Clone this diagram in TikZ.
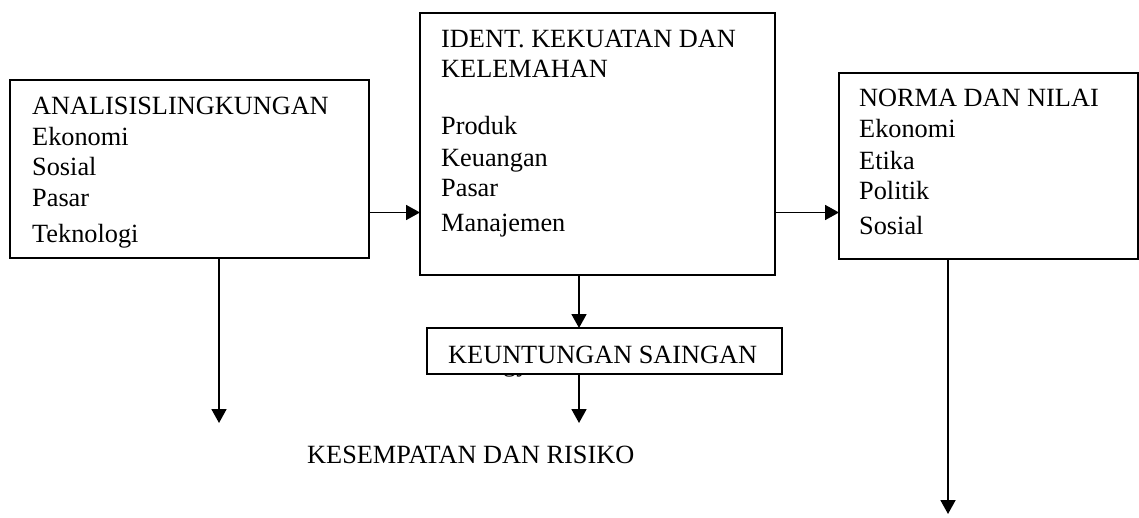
\documentclass[tikz,border=0pt]{standalone}
\usepackage{fontspec}
\setmainfont{Liberation Serif}
\usetikzlibrary{arrows.meta}
\tikzset{
  boxrect/.style={draw, line width=1.8pt, minimum width=#1, inner sep=0pt, outer sep=0pt, anchor=north west},
  txt/.style={anchor=base west, inner sep=0pt, font=\fontsize{26.3}{30}\selectfont},
  arr/.style={line width=1.8pt, -{Triangle[length=14pt,width=15pt]}},
}
\begin{document}
\begin{tikzpicture}[x=1pt,y=-1pt]
\useasboundingbox (0,0) rectangle (1139,518);
% boxes
\node[boxrect=359pt, minimum height=178pt] (b1) at (10,80) {};
\node[boxrect=355pt, minimum height=262pt] (b2) at (420,13) {};
\node[boxrect=299pt, minimum height=186pt] (b3) at (839,73) {};
% box 1 text
\node[txt] (t1a) at (32,115) {ANALISISLINGKUNGAN};
\node[txt] (t1b) at (32,146) {Ekonomi};
\node[txt] (t1c) at (32,176) {Sosial};
\node[txt] (t1d) at (32,207) {Pasar};
\node[txt] (t1e) at (32,243) {Teknologi};
% box 2 text
\node[txt] (t2a) at (441,48) {IDENT. KEKUATAN DAN};
\node[txt] (t2b) at (441,78) {KELEMAHAN};
\node[txt] (t2c) at (441,135) {Produk};
\node[txt] (t2d) at (441,167) {Keuangan};
\node[txt] (t2e) at (441,197) {Pasar};
\node[txt] (t2f) at (441,232) {Manajemen};
% box 3 text
\node[txt] (t3a) at (859,107) {NORMA DAN NILAI};
\node[txt] (t3b) at (859,138) {Ekonomi};
\node[txt] (t3c) at (859,170) {Etika};
\node[txt] (t3d) at (859,200) {Politik};
\node[txt] (t3e) at (859,235) {Sosial};
% hidden text fragment behind the box
\node[txt] (frag) at (503,371) {gy};
% keuntungan box
\node[boxrect=355pt, minimum height=46pt, fill=white] (k) at (427,328) {};
\node[txt] (kt) at (448,363) {KEUNTUNGAN SAINGAN};
% bottom label
\node[txt] (ks) at (307,463) {KESEMPATAN DAN RISIKO};
% connector coordinates
\coordinate (yrow) at (0,212.5);
\coordinate (xa) at (219,0);
\coordinate (xb) at (579,0);
\coordinate (xc) at (948,0);
\coordinate (ea) at (219,423);
\coordinate (eb) at (579,423);
\coordinate (ec) at (948,514);
% connectors
\draw[arr] (b1.east |- yrow) -- (b2.west |- yrow);
\draw[arr] (b2.east |- yrow) -- (b3.west |- yrow);
\draw[arr] (b1.south -| xa) -- (ea);
\draw[arr] (b2.south -| xb) -- (k.north -| xb);
\draw[arr] (k.south -| xb) -- (eb);
\draw[arr] (b3.south -| xc) -- (ec);
\end{tikzpicture}
\end{document}
